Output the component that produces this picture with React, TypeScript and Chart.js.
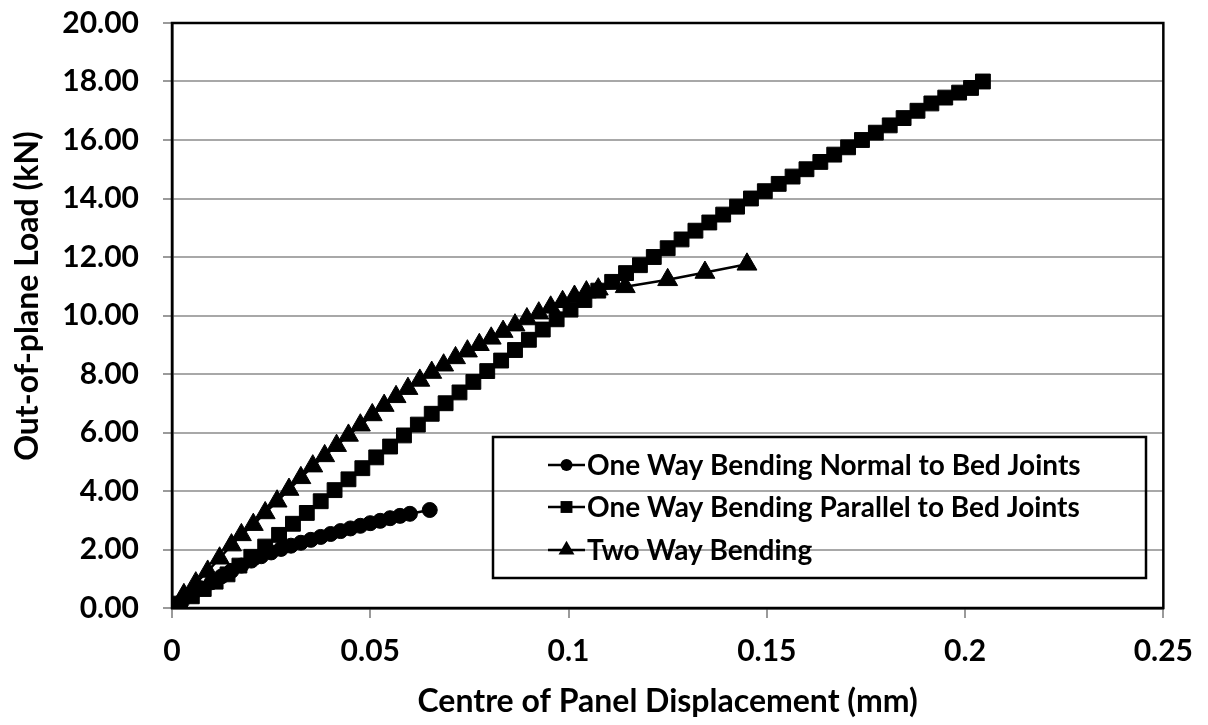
import React, { useEffect, useRef } from 'react';
import { Chart, registerables } from 'chart.js';

Chart.register(...registerables);

const seriesNames = [
  'One Way Bending Normal to Bed Joints',
  'One Way Bending Parallel to Bed Joints',
  'Two Way Bending',
];

const normalX = [0, 0.0025, 0.005, 0.0075, 0.01, 0.0125, 0.015, 0.0175, 0.02, 0.0225, 0.025, 0.0275, 0.03, 0.0325, 0.035, 0.0375, 0.04, 0.0425, 0.045, 0.0475, 0.05, 0.0525, 0.055, 0.0575, 0.06, 0.065];
const normalY = [0, 0.22, 0.45, 0.67, 0.88, 1.08, 1.27, 1.45, 1.62, 1.77, 1.9, 2.02, 2.13, 2.23, 2.33, 2.43, 2.53, 2.63, 2.72, 2.81, 2.9, 2.98, 3.07, 3.15, 3.22, 3.35];

const parallelX = [0, 0.002, 0.005, 0.008, 0.011, 0.014, 0.017, 0.02, 0.0235, 0.027, 0.0305, 0.034, 0.0375, 0.041, 0.0445, 0.048, 0.0515, 0.055, 0.0585, 0.062, 0.0655, 0.069, 0.0725, 0.076, 0.0795, 0.083, 0.0865, 0.09, 0.0935, 0.097, 0.1005, 0.104, 0.1075, 0.111, 0.1145, 0.118, 0.1215, 0.125, 0.1285, 0.132, 0.1355, 0.139, 0.1425, 0.146, 0.1495, 0.153, 0.1565, 0.16, 0.1635, 0.167, 0.1705, 0.174, 0.1775, 0.181, 0.1845, 0.188, 0.1915, 0.195, 0.1985, 0.2015, 0.2045];
const parallelY = [0, 0.15, 0.4, 0.65, 0.9, 1.15, 1.45, 1.75, 2.1, 2.5, 2.88, 3.25, 3.65, 4.03, 4.4, 4.78, 5.15, 5.52, 5.9, 6.27, 6.64, 7.0, 7.37, 7.73, 8.1, 8.46, 8.82, 9.17, 9.52, 9.87, 10.2, 10.53, 10.85, 11.15, 11.45, 11.72, 12.0, 12.3, 12.6, 12.9, 13.18, 13.45, 13.72, 14.0, 14.25, 14.5, 14.75, 15.0, 15.25, 15.5, 15.75, 16.0, 16.25, 16.5, 16.75, 17.0, 17.25, 17.45, 17.62, 17.78, 18.0];

const twoWayX = [0, 0.003, 0.006, 0.009, 0.012, 0.015, 0.0175, 0.0205, 0.0235, 0.0265, 0.0295, 0.0325, 0.0355, 0.0385, 0.0415, 0.0445, 0.0475, 0.0505, 0.0535, 0.0565, 0.0595, 0.0625, 0.0655, 0.0685, 0.0715, 0.0745, 0.0775, 0.0805, 0.0835, 0.0865, 0.0895, 0.0925, 0.0955, 0.0985, 0.1015, 0.1045, 0.1075, 0.1143, 0.125, 0.1344, 0.145];
const twoWayY = [0, 0.45, 0.85, 1.25, 1.7, 2.15, 2.5, 2.85, 3.25, 3.65, 4.05, 4.45, 4.85, 5.2, 5.55, 5.9, 6.25, 6.6, 6.92, 7.22, 7.5, 7.78, 8.05, 8.3, 8.55, 8.78, 9.0, 9.22, 9.45, 9.67, 9.88, 10.08, 10.28, 10.47, 10.65, 10.8, 10.9, 10.98, 11.22, 11.47, 11.75];

const xTickLabels = ['0', '0.05', '0.1', '0.15', '0.2', '0.25'];
const yTickLabels = ['0.00', '2.00', '4.00', '6.00', '8.00', '10.00', '12.00', '14.00', '16.00', '18.00', '20.00'];

const xTitle = 'Centre of Panel Displacement (mm)';
const yTitle = 'Out-of-plane Load (kN)';

const FONT = 'Lato, "Open Sans", "DejaVu Sans", sans-serif';

function drawMarker(ctx: CanvasRenderingContext2D, style: string, x: number, y: number, r: number) {
  ctx.beginPath();
  if (style === 'circle') {
    ctx.arc(x, y, r, 0, Math.PI * 2);
  } else if (style === 'rect') {
    const s = r * Math.SQRT1_2;
    ctx.rect(x - s, y - s, 2 * s, 2 * s);
  } else {
    ctx.moveTo(x, y - r);
    ctx.lineTo(x + r * 0.866, y + r * 0.5);
    ctx.lineTo(x - r * 0.866, y + r * 0.5);
    ctx.closePath();
  }
  ctx.fill();
}

export default function App() {
  const ref = useRef<HTMLCanvasElement>(null);

  useEffect(() => {
    document.body.style.margin = '0';
    const canvas = ref.current;
    if (!canvas) return;

    const toPts = (xs: number[], ys: number[]) => xs.map((x, i) => ({ x, y: ys[i] }));
    const styles = ['circle', 'rect', 'triangle'];
    const radii = [7.5, 10.5, 11.5];
    const data = [toPts(normalX, normalY), toPts(parallelX, parallelY), toPts(twoWayX, twoWayY)];

    const framePlugin = {
      id: 'frame',
      beforeDatasetsDraw(chart: any) {
        const { ctx, chartArea } = chart;
        ctx.save();
        ctx.strokeStyle = '#000';
        ctx.lineWidth = 2.5;
        ctx.strokeRect(chartArea.left, chartArea.top, chartArea.right - chartArea.left, chartArea.bottom - chartArea.top);
        ctx.translate(28, 296);
        ctx.rotate(-Math.PI / 2);
        ctx.font = `bold 32px ${FONT}`;
        ctx.fillStyle = '#000';
        ctx.textAlign = 'center';
        ctx.textBaseline = 'middle';
        ctx.fillText(yTitle, 0, 0);
        ctx.restore();
      },
    };

    const legendPlugin = {
      id: 'boxLegend',
      afterDraw(chart: any) {
        const { ctx } = chart;
        ctx.save();
        ctx.strokeStyle = '#000';
        ctx.lineWidth = 2.5;
        ctx.strokeRect(493, 437, 653, 141);
        const rows = [465, 507, 550];
        ctx.font = `bold 28px ${FONT}`;
        ctx.textBaseline = 'middle';
        ctx.textAlign = 'left';
        seriesNames.forEach((name, i) => {
          const y = rows[i];
          ctx.strokeStyle = '#000';
          ctx.lineWidth = 2.5;
          ctx.beginPath();
          ctx.moveTo(548, y);
          ctx.lineTo(585, y);
          ctx.stroke();
          ctx.fillStyle = '#000';
          drawMarker(ctx, styles[i], 566.5, y, radii[i] * 0.8);
          ctx.fillText(name, 587, y + 1);
        });
        ctx.restore();
      },
    };

    const tickFont = { family: FONT, size: 30, weight: 'bold' as const };
    const titleFont = { family: FONT, size: 32, weight: 'bold' as const };

    const chart = new Chart(canvas, {
      type: 'scatter',
      data: {
        datasets: seriesNames.map((name, i) => ({
          label: name,
          data: data[i],
          showLine: true,
          borderColor: '#000',
          backgroundColor: '#000',
          borderWidth: 2.5,
          pointStyle: styles[i] as any,
          pointRadius: radii[i],
          pointBackgroundColor: '#000',
          pointBorderColor: '#000',
          pointBorderWidth: 1,
          tension: 0,
        })),
      },
      options: {
        animation: false,
        responsive: false,
        events: [],
        layout: { padding: { left: 0, top: 23, right: 42, bottom: 0 } },
        plugins: {
          legend: { display: false },
          tooltip: { enabled: false },
        },
        scales: {
          x: {
            type: 'linear',
            min: 0,
            max: 0.25,
            afterBuildTicks: (s: any) => {
              s.ticks = xTickLabels.map((l) => ({ value: parseFloat(l) }));
            },
            afterFit: (s: any) => {
              s.height = 117;
            },
            ticks: {
              callback: (_v: any, i: number) => xTickLabels[i],
              font: tickFont,
              color: '#000',
              padding: 15,
              maxRotation: 0,
              autoSkip: false,
            },
            grid: {
              drawOnChartArea: false,
              drawTicks: true,
              tickLength: 10,
              tickColor: '#9a9a9a',
              lineWidth: 2,
            },
            border: { display: true, color: '#000', width: 2.5 },
            title: {
              display: true,
              text: xTitle,
              font: titleFont,
              color: '#000',
              padding: { top: 0, bottom: 4 },
            },
          },
          y: {
            type: 'linear',
            min: 0,
            max: 20,
            afterBuildTicks: (s: any) => {
              s.ticks = yTickLabels.map((l) => ({ value: parseFloat(l) }));
            },
            afterFit: (s: any) => {
              s.width = 172;
              s.paddingTop = 0;
              s.paddingBottom = 0;
            },
            ticks: {
              callback: (_v: any, i: number) => yTickLabels[i],
              font: tickFont,
              color: '#000',
              padding: 24,
              autoSkip: false,
            },
            grid: {
              color: '#a8a8a8',
              lineWidth: 2,
              tickLength: 9,
              tickColor: '#9a9a9a',
            },
            border: { display: true, color: '#000', width: 2.5 },
            title: { display: false },
          },
        },
      },
      plugins: [framePlugin, legendPlugin],
    });

    return () => chart.destroy();
  }, []);

  return (
    <div style={{ width: 1208, height: 725, background: '#fff' }}>
      <canvas ref={ref} width={1208} height={725} style={{ display: 'block', width: 1208, height: 725 }} />
    </div>
  );
}
